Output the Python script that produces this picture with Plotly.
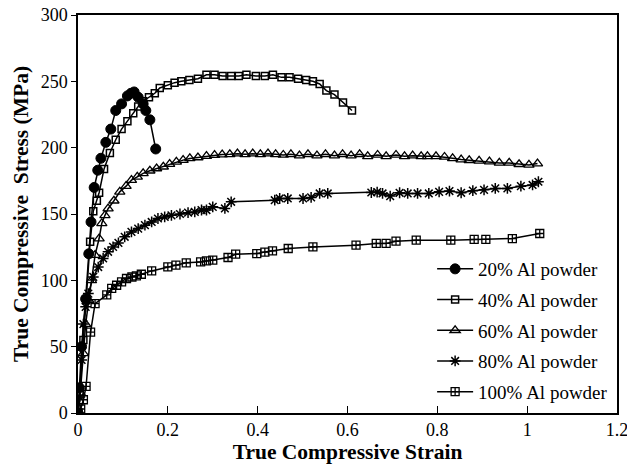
import plotly.graph_objects as go

# ---- data ----
x20 = [0, 0.003, 0.008, 0.017, 0.024, 0.029, 0.036, 0.044, 0.051, 0.062, 0.073, 0.084, 0.097, 0.110,
       0.118, 0.125, 0.134, 0.145, 0.151, 0.160, 0.173]
y20 = [0, 19, 50, 86, 120, 144, 170, 183, 192, 204, 214, 228, 233, 239,
       241, 242, 238, 233, 228, 221, 199]

x40 = [0, 0.004, 0.012, 0.018, 0.027, 0.034, 0.042, 0.047, 0.058, 0.071, 0.084, 0.097, 0.110, 0.123,
       0.134, 0.145, 0.158, 0.171, 0.182, 0.200, 0.215, 0.230, 0.248, 0.267, 0.286, 0.304, 0.322,
       0.341, 0.358, 0.375, 0.396, 0.416, 0.434, 0.453, 0.471, 0.490, 0.508, 0.523, 0.538, 0.553,
       0.571, 0.590, 0.610]
y40 = [0, 14, 55, 85, 129, 152, 160, 166, 184, 196, 206, 214, 220, 226,
       231, 235, 238, 241, 245, 247, 249, 250, 251, 252, 255, 255, 254,
       254, 254, 255, 254, 254, 255, 253, 253, 252, 251, 250, 248, 243,
       240, 234, 228]

x60 = [0, 0.005, 0.012, 0.017, 0.024, 0.030, 0.038, 0.047, 0.053, 0.060, 0.067, 0.080, 0.093, 0.107,
       0.119, 0.132, 0.145, 0.160, 0.175, 0.190, 0.204, 0.219, 0.234, 0.249, 0.267, 0.286, 0.304,
       0.321, 0.338, 0.355, 0.372, 0.389, 0.406, 0.423, 0.440, 0.457, 0.474, 0.493, 0.512, 0.532,
       0.551, 0.571, 0.589, 0.608, 0.627, 0.645, 0.667, 0.686, 0.708, 0.727, 0.745, 0.764, 0.778,
       0.797, 0.816, 0.834, 0.853, 0.871, 0.893, 0.916, 0.938, 0.960, 0.982, 1.004, 1.023]
y60 = [0, 15, 45, 67, 85, 100, 119, 131.5, 143, 149, 154, 160, 166.7, 171,
       175.5, 178, 180.6, 182.6, 184.3, 185.6, 187.6, 189.3, 190.6, 191.9, 192.6, 193.6, 194.4,
       194.8, 195, 195.5, 195, 195.5, 195, 195.5, 195, 194.5, 195, 194, 195, 194,
       195, 194, 195, 194, 195, 193.5, 194.5, 193.5, 194.5, 193.5, 194, 193.5, 193.5,
       193.5, 193, 192, 191, 190.5, 190, 189.5, 188.5, 188.5, 187.5, 187, 188]

x80 = [0, 0.004, 0.008, 0.012, 0.017, 0.023, 0.034, 0.045, 0.056, 0.067, 0.078, 0.090, 0.104, 0.119,
       0.134, 0.149, 0.164, 0.178, 0.193, 0.208, 0.227, 0.245, 0.260, 0.275, 0.286, 0.300, 0.327,
       0.341, 0.438, 0.449, 0.467, 0.501, 0.519, 0.538, 0.556, 0.653, 0.666, 0.678, 0.695, 0.716,
       0.734, 0.756, 0.781, 0.804, 0.827, 0.853, 0.879, 0.904, 0.929, 0.956, 0.986, 1.012, 1.025]
y80 = [0, 12, 40, 67, 80, 90, 102.6, 110, 116.5, 121.5, 125.2, 128.2, 132.8, 136.5,
       139, 141.6, 144, 146.6, 147.8, 149, 150, 151, 151.6, 153, 153, 155.4, 154.2,
       159.2, 160.4, 161.7, 161.7, 161.7, 162.5, 165.5, 165.5, 166.2, 166.5, 165.5, 163.5, 166,
       165.5, 165.5, 165.5, 166.7, 167.3, 166, 167.6, 168.2, 169.3, 169.3, 171, 171.9, 174.3]

x100 = [0, 0.006, 0.012, 0.018, 0.028, 0.038, 0.064, 0.075, 0.086, 0.097, 0.108, 0.120, 0.130,
        0.141, 0.164, 0.200, 0.218, 0.241, 0.273, 0.286, 0.300, 0.334, 0.351, 0.398, 0.416, 0.433,
        0.468, 0.523, 0.619, 0.664, 0.686, 0.708, 0.753, 0.830, 0.882, 0.908, 0.967, 1.028]
y100 = [0, 3, 10, 20, 61, 82.5, 89, 94, 96.3, 98.8, 101.4, 102.5, 103.4,
        104.6, 107.1, 110.1, 111.4, 113.2, 113.9, 114.6, 115.2, 117.2, 119.7, 120.2, 121.3, 122.2,
        124, 125.2, 126.5, 127.8, 127.8, 129.5, 130.3, 130.3, 130.8, 130.8, 131.5, 135.3]

names = ["20% Al powder", "40% Al powder", "60% Al powder", "80% Al powder", "100% Al powder"]

FONT = "Liberation Serif, Times New Roman, serif"

series = [
    (x20, y20, dict(symbol="circle", size=10, color="black", line=dict(color="black", width=1))),
    (x40, y40, dict(symbol="square-open", size=7, color="black", line=dict(color="black", width=1.5))),
    (x60, y60, dict(symbol="triangle-up-open", size=9, color="black", line=dict(color="black", width=1.3))),
    (x80, y80, dict(symbol="asterisk-open", size=9, color="black", line=dict(color="black", width=1.5))),
    (x100, y100, dict(symbol="square-cross-open", size=8, color="black", line=dict(color="black", width=1.3))),
]

fig = go.Figure()
for i, ((xs, ys, mk), nm) in enumerate(zip(series, names)):
    fig.add_trace(go.Scatter(
        x=xs, y=ys, name=nm, mode="lines+markers",
        line=dict(color="black", width=1.5),
        marker=mk, legendgroup=str(i),
    ))

TICKFONT = dict(family=FONT, size=18, color="black")
TITLEFONT = dict(family=FONT, size=21.5, color="black")

fig.update_xaxes(range=[0, 1.2], dtick=0.2, tick0=0, ticks="inside", ticklen=7, tickwidth=1.3,
                 tickcolor="black", tickfont=TICKFONT, automargin=False, ticklabeloverflow="allow",
                 showline=True, linecolor="black", linewidth=1.5, mirror=True,
                 showgrid=False, zeroline=False,
                 title=dict(text="<b>True Compressive Strain</b>", font=TITLEFONT, standoff=4))
fig.update_yaxes(range=[0, 300], dtick=50, tick0=0, ticks="outside", ticklen=5, tickwidth=1.3,
                 tickcolor="black", tickfont=TICKFONT, automargin=False,
                 showline=True, linecolor="black", linewidth=1.5, mirror=True,
                 showgrid=False, zeroline=False,
                 title=dict(text="<b>True Compressive\u00a0 Stress (MPa)</b>", font=TITLEFONT, standoff=6))

fig.update_layout(
    width=627, height=473,
    margin=dict(l=78, r=10, t=15, b=60),
    paper_bgcolor="white", plot_bgcolor="white",
    font=dict(family=FONT, color="black"),
    legend=dict(x=0.657, y=0.4095, xanchor="left", yanchor="top",
                font=dict(family=FONT, size=19, color="black"),
                bgcolor="rgba(0,0,0,0)", tracegroupgap=3, itemwidth=36),
)

fig.write_html("out.html", config={"displayModeBar": False},
               post_script="document.body.style.margin='0px';document.body.style.overflow='hidden';")
